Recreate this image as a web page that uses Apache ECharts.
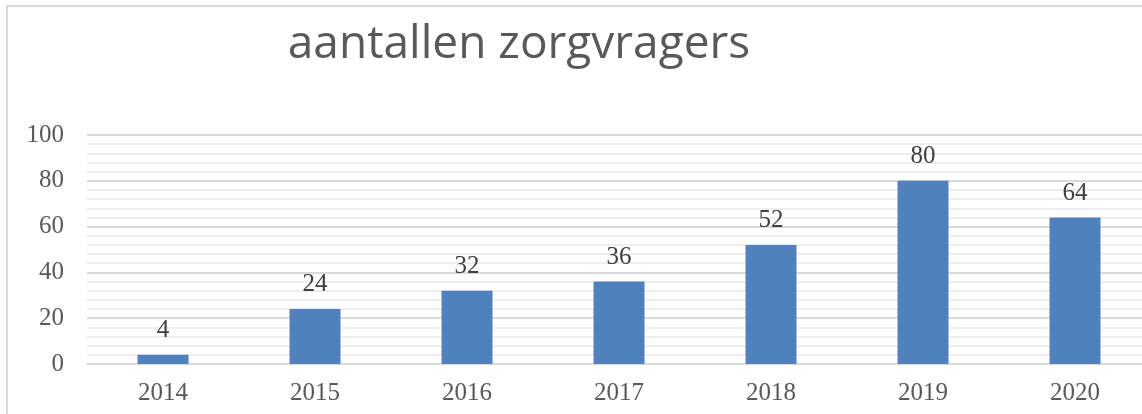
<!DOCTYPE html>
<html>
<head>
<meta charset="utf-8">
<script src="https://cdn.jsdelivr.net/npm/echarts@6/dist/echarts.min.js"></script>
<style>
	html,body{margin:0;padding:0;background:#fff;overflow:hidden;}
	#chart{width:1152px;height:414px;}
</style>
</head>
<body>
<div id="chart"></div>
<script>
//gegevens
var jaren = ["2014", "2015", "2016", "2017", "2018", "2019", "2020"];
var aantallen = [4, 24, 32, 36, 52, 80, 64];
var titel = "aantallen zorgvragers";

var myChart = echarts.init(document.getElementById("chart"));
myChart.setOption({
	backgroundColor: "#ffffff",
	animation: false,
	title: {
		text: titel,
		left: 514,
		top: 17,
		textAlign: "center",
		textStyle: {
			fontFamily: "Open Sans",
			fontWeight: "normal",
			fontSize: 46,
			color: "#595959"
		}
	},
	graphic: [{
		type: "rect",
		shape: {x: 7, y: 6, width: 1160, height: 420},
		style: {fill: "none", stroke: "#d9d9d9", lineWidth: 2},
		silent: true
	}],
	grid: {
		left: 87,
		top: 135,
		right: 1,
		height: 229,
		containLabel: false
	},
	xAxis: {
		type: "category",
		data: jaren,
		axisLine: {show: true, lineStyle: {color: "#d9d9d9", width: 2}},
		axisTick: {show: false},
		axisLabel: {
			margin: 17,
			fontFamily: "Liberation Serif",
			fontSize: 25,
			color: "#595959"
		}
	},
	yAxis: {
		type: "value",
		min: 0,
		max: 100,
		interval: 20,
		axisLine: {show: false},
		axisTick: {show: false},
		axisLabel: {
			margin: 23,
			fontFamily: "Liberation Serif",
			fontSize: 25,
			color: "#595959"
		},
		splitLine: {lineStyle: {color: "#d9d9d9", width: 2}},
		minorTick: {show: false, splitNumber: 5},
		minorSplitLine: {show: true, lineStyle: {color: "#eeeeee", width: 2}}
	},
	series: [{
		type: "bar",
		data: aantallen,
		barWidth: 51,
		itemStyle: {color: "#4f81bd"},
		label: {
			show: true,
			position: "top",
			distance: 12,
			fontFamily: "Liberation Serif",
			fontSize: 25,
			color: "#404040"
		}
	}]
});
</script>
</body>
</html>
